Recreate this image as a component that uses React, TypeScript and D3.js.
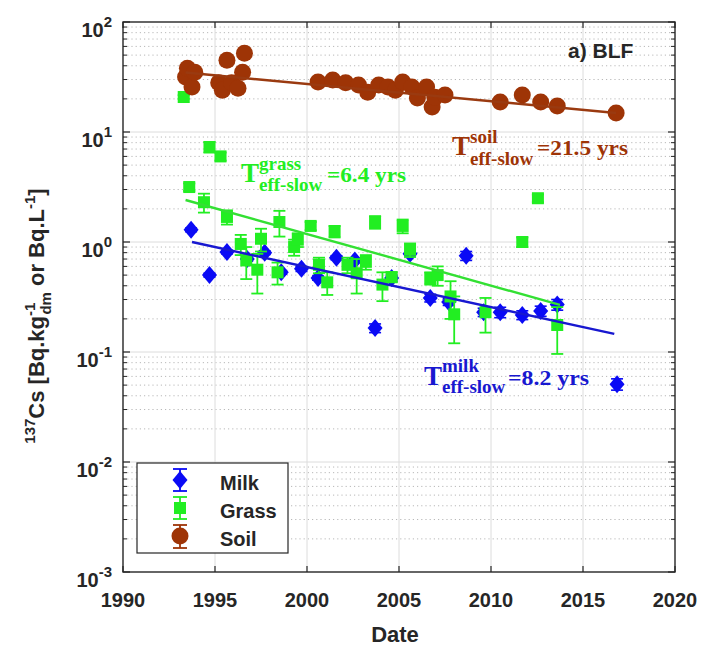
import React from "react";
import * as d3 from "d3";

// ---- Data ----
const milkYear = [1993.7, 1994.7, 1995.65, 1996.75, 1997.7, 1998.6, 1999.7, 2000.6, 2001.6, 2002.6, 2003.7, 2004.6, 2005.6, 2006.7, 2007.7, 2008.65, 2009.6, 2010.5, 2011.7, 2012.7, 2013.6, 2016.85];
const milkVal = [1.29, 0.5, 0.81, 0.7, 0.8, 0.53, 0.57, 0.47, 0.72, 0.68, 0.165, 0.47, 0.78, 0.31, 0.285, 0.75, 0.23, 0.23, 0.217, 0.236, 0.27, 0.051];
const milkErr = [0.05, 0.02, 0.03, 0.03, 0.03, 0.02, 0.03, 0.02, 0.03, 0.03, 0.015, 0.03, 0.03, 0.025, 0.02, 0.07, 0.02, 0.025, 0.02, 0.025, 0.03, 0.006];

const grassYear = [1993.3, 1993.6, 1994.4, 1994.7, 1995.3, 1995.65, 1996.4, 1996.7, 1997.3, 1997.5, 1998.4, 1998.5, 1999.3, 1999.5, 2000.2, 2000.65, 2001.1, 2001.5, 2002.2, 2002.7, 2003.2, 2003.7, 2004.1, 2004.6, 2005.2, 2005.6, 2006.7, 2007.1, 2007.8, 2008.0, 2009.7, 2011.7, 2012.55, 2013.6];
const grassVal = [20.8, 3.16, 2.3, 7.3, 6.0, 1.69, 0.96, 0.68, 0.56, 1.07, 0.53, 1.52, 0.9, 1.05, 1.4, 0.62, 0.43, 1.25, 0.62, 0.52, 0.66, 1.52, 0.41, 0.48, 1.4, 0.85, 0.47, 0.5, 0.32, 0.22, 0.23, 1.0, 2.5, 0.176];
const grassErr = [0.8, 0.25, 0.45, 0.8, 0.5, 0.25, 0.2, 0.22, 0.22, 0.25, 0.12, 0.4, 0.15, 0.15, 0.12, 0.1, 0.1, 0.15, 0.1, 0.18, 0.1, 0.2, 0.12, 0.05, 0.2, 0.12, 0.06, 0.1, 0.12, 0.1, 0.08, 0.1, 0.2, 0.08];

const soilYear = [1993.4, 1993.5, 1993.75, 1993.9, 1995.2, 1995.4, 1995.65, 1995.9, 1996.25, 1996.5, 1996.6, 2000.6, 2001.4, 2002.1, 2002.8, 2003.3, 2003.9, 2004.4, 2004.8, 2005.2, 2005.7, 2006.0, 2006.5, 2006.8, 2006.95, 2007.5, 2010.5, 2011.7, 2012.7, 2013.6, 2016.8];
const soilVal = [31.6, 38, 25.7, 35, 28, 24, 45, 28, 25, 35, 52, 28.5, 29.7, 28, 26.7, 23, 26.7, 25.7, 24, 28.5, 25.7, 20.4, 25.7, 16.9, 20.7, 21.7, 18.7, 21.7, 18.7, 17.2, 14.9];

// fitted exponential trends (end points)
const milkFitYear = [1993.75, 2016.7];
const milkFitVal = [1.0, 0.146];
const grassFitYear = [1993.4, 2013.75];
const grassFitVal = [2.41, 0.268];
const soilFitYear = [1993.4, 2016.8];
const soilFitVal = [34.7, 14.9];

const xTicks = [1990, 1995, 2000, 2005, 2010, 2015, 2020];
const yExps = [-3, -2, -1, 0, 1, 2];

const C_MILK = "#0a0af5";
const C_MILK_LINE = "#1818d0";
const C_GRASS = "#22ee22";
const C_GRASS_LINE = "#33e033";
const C_SOIL = "#9e3406";
const C_SOIL_LINE = "#9a3a10";
const C_AXIS = "#262626";

const SANS = "'Liberation Sans', Arial, sans-serif";
const SERIF = "'Liberation Serif', 'Times New Roman', serif";

export default function App() {
  const W = 705, H = 651;
  const L = 123, R = 675, T = 22, B = 572;
  const x = d3.scaleLinear().domain([1990, 2020]).range([L, R]);
  const y = d3.scaleLog().domain([1e-3, 1e2]).range([B, T]);
  const yc = (v: number) => y(Math.max(v, 1e-3));

  const minor: number[] = [];
  for (let e = -3; e < 2; e++) for (let k = 2; k <= 9; k++) minor.push(k * Math.pow(10, e));

  const line = d3.line<[number, number]>().x(d => x(d[0])).y(d => y(d[1]));
  const fit = (ys: number[], vs: number[]) => line(ys.map((t, i) => [t, vs[i]] as [number, number])) || "";

  const errBar = (cx: number, lo: number, hi: number, color: string, key: string, cap = 6, sw = 1.6) => (
    <g key={key} stroke={color} strokeWidth={sw} fill="none">
      <line x1={cx} x2={cx} y1={lo} y2={hi} />
      <line x1={cx - cap} x2={cx + cap} y1={lo} y2={lo} />
      <line x1={cx - cap} x2={cx + cap} y1={hi} y2={hi} />
    </g>
  );
  const diamond = "M0,-9 L7.5,0 L0,9 L-7.5,0 Z";

  return (
    <div style={{ position: "absolute", left: 0, top: 0 }}>
      <svg width={W} height={H} viewBox={`0 0 ${W} ${H}`} style={{ display: "block", background: "#fff" }}>
        {/* grid */}
        <g>
          {minor.map((v, i) => (
            <line key={"mn" + i} x1={L} x2={R} y1={y(v)} y2={y(v)} stroke="#b8b8b8" strokeWidth={1} strokeDasharray="1.2,3" />
          ))}
          {yExps.slice(1, -1).map(e => (
            <line key={"my" + e} x1={L} x2={R} y1={y(Math.pow(10, e))} y2={y(Math.pow(10, e))} stroke="#dcdcdc" strokeWidth={1} />
          ))}
          {xTicks.slice(1, -1).map(t => (
            <line key={"mx" + t} x1={x(t)} x2={x(t)} y1={T} y2={B} stroke="#dcdcdc" strokeWidth={1} />
          ))}
        </g>

        {/* milk */}
        <g>
          {milkYear.map((t, i) => errBar(x(t), yc(milkVal[i] - milkErr[i]), y(milkVal[i] + milkErr[i]), C_MILK, "me" + i, 6, 1.6))}
          {milkYear.map((t, i) => (
            <path key={"m" + i} d={diamond} transform={`translate(${x(t)},${y(milkVal[i])})`} fill={C_MILK} />
          ))}
        </g>
        {/* grass */}
        <g>
          {grassYear.map((t, i) => errBar(x(t), yc(grassVal[i] - grassErr[i]), y(grassVal[i] + grassErr[i]), C_GRASS, "ge" + i, 6, 1.8))}
          {grassYear.map((t, i) => (
            <rect key={"g" + i} x={x(t) - 6} y={y(grassVal[i]) - 6} width={12} height={12} fill={C_GRASS} />
          ))}
        </g>
        {/* soil */}
        <g>
          {soilYear.map((t, i) => (
            <circle key={"s" + i} cx={x(t)} cy={y(soilVal[i])} r={8.5} fill={C_SOIL} />
          ))}
        </g>

        {/* fits */}
        <path d={fit(milkFitYear, milkFitVal)} stroke={C_MILK_LINE} strokeWidth={2.4} fill="none" />
        <path d={fit(grassFitYear, grassFitVal)} stroke={C_GRASS_LINE} strokeWidth={2.4} fill="none" />
        <path d={fit(soilFitYear, soilFitVal)} stroke={C_SOIL_LINE} strokeWidth={2.4} fill="none" />

        {/* axes box & ticks */}
        <g stroke={C_AXIS} fill="none">
          <rect x={L} y={T} width={R - L} height={B - T} strokeWidth={1.4} />
          {minor.map((v, i) => (
            <g key={"tk" + i} strokeWidth={1}>
              <line x1={L} x2={L + 4} y1={y(v)} y2={y(v)} />
              <line x1={R} x2={R - 4} y1={y(v)} y2={y(v)} />
            </g>
          ))}
          {yExps.map(e => (
            <g key={"tM" + e} strokeWidth={1.2}>
              <line x1={L} x2={L + 7} y1={y(Math.pow(10, e))} y2={y(Math.pow(10, e))} />
              <line x1={R} x2={R - 7} y1={y(Math.pow(10, e))} y2={y(Math.pow(10, e))} />
            </g>
          ))}
          {xTicks.map(t => (
            <g key={"tx" + t} strokeWidth={1.2}>
              <line x1={x(t)} x2={x(t)} y1={B} y2={B - 6} />
              <line x1={x(t)} x2={x(t)} y1={T} y2={T + 6} />
            </g>
          ))}
        </g>

        {/* tick labels */}
        <g fontFamily={SANS} fontWeight="bold" fill={C_AXIS}>
          {xTicks.map(t => (
            <text key={"xl" + t} x={x(t)} y={607} fontSize={20} textAnchor="middle">{t}</text>
          ))}
          {yExps.map(e => (
            <text key={"yl" + e} x={112} y={y(Math.pow(10, e)) + 15} fontSize={20} textAnchor="end">
              10<tspan fontSize={15} dy={-10}>{e}</tspan>
            </text>
          ))}
          <text x={395} y={642} fontSize={22} textAnchor="middle">Date</text>
          <text transform="translate(44,316) rotate(-90)" fontSize={22} textAnchor="middle">
            <tspan fontSize={15} dy={-9}>137</tspan>
            <tspan dy={9}>Cs [Bq.kg</tspan>
            <tspan fontSize={15} dy={-9}>-1</tspan>
            <tspan fontSize={15} dx={-12} dy={16}>dm</tspan>
            <tspan dy={-7}> or Bq.L</tspan>
            <tspan fontSize={15} dy={-9}>-1</tspan>
            <tspan dy={9}>]</tspan>
          </text>
          <text x={568} y={58} fontSize={21}>a) BLF</text>
        </g>

        {/* annotations */}
        <g fontFamily={SERIF} fontWeight="bold">
          <g fill={C_GRASS}>
            <text x={241} y={182} fontSize={27}>T</text>
            <text x={259} y={170} fontSize={19}>grass</text>
            <text x={259} y={191} fontSize={19}>eff-slow</text>
            <text x={327} y={182} fontSize={22} textLength={79} lengthAdjust="spacingAndGlyphs">=6.4 yrs</text>
          </g>
          <g fill={C_SOIL}>
            <text x={452} y={155} fontSize={27}>T</text>
            <text x={470} y={143} fontSize={19}>soil</text>
            <text x={470} y={165} fontSize={19}>eff-slow</text>
            <text x={537} y={155} fontSize={22} textLength={91} lengthAdjust="spacingAndGlyphs">=21.5 yrs</text>
          </g>
          <g fill={C_MILK_LINE}>
            <text x={424} y={385} fontSize={27}>T</text>
            <text x={442} y={372} fontSize={19}>milk</text>
            <text x={442} y={393} fontSize={19}>eff-slow</text>
            <text x={508} y={385} fontSize={22} textLength={81} lengthAdjust="spacingAndGlyphs">=8.2 yrs</text>
          </g>
        </g>

        {/* legend */}
        <g>
          <rect x={137} y={463} width={151} height={90} fill="#fff" stroke={C_AXIS} strokeWidth={1.2} />
          {errBar(180, 491, 469, C_MILK, "lm", 7, 1.8)}
          <path d={diamond} transform="translate(180,480)" fill={C_MILK} />
          {errBar(180, 519, 497, C_GRASS, "lg", 7, 1.8)}
          <rect x={174} y={502} width={12} height={12} fill={C_GRASS} />
          {errBar(180, 548, 525, C_SOIL, "ls", 7, 1.8)}
          <circle cx={180} cy={536} r={8.5} fill={C_SOIL} />
          <g fontFamily={SANS} fontWeight="bold" fontSize={20} fill={C_AXIS}>
            <text x={220} y={490}>Milk</text>
            <text x={220} y={518}>Grass</text>
            <text x={220} y={546}>Soil</text>
          </g>
        </g>
      </svg>
    </div>
  );
}
